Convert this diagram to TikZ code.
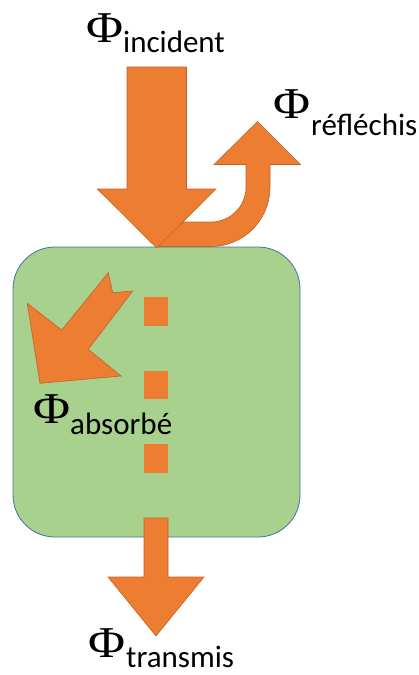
\documentclass[tikz,border=0pt]{standalone}
\usepackage{fontspec}
\newfontfamily\phifont{Liberation Serif}
\newfontfamily\subfont{Carlito}
\definecolor{orng}{HTML}{ED7D31}
\definecolor{orngline}{HTML}{C0632A}
\definecolor{grn}{HTML}{A9D18E}
\definecolor{grnline}{HTML}{41719C}
\newcommand{\bigphi}{\scalebox{1.15}[1]{Φ}}
\tikzset{
  arrowshape/.style={fill=orng, draw=orngline, line width=0.6pt, line join=miter},
  dashbox/.style={fill=orng, draw=none},
  phitxt/.style={anchor=base west, inner sep=0pt, font=\phifont\fontsize{44}{44}\selectfont},
  subtxt/.style={anchor=base west, inner sep=0pt, font=\subfont\fontsize{31}{31}\selectfont},
}
\begin{document}
\begin{tikzpicture}[x=1pt,y=-1pt]
\useasboundingbox (0,0) rectangle (419,675);
% body
\node[draw=grnline, fill=grn, line width=0.8pt, rounded corners=42pt, minimum width=287pt, minimum height=290pt, inner sep=0pt] (body) at (156.5,392) {};
% dashes (transmitted flux inside)
\fill[orng] (144,297) rectangle (168,326);
\fill[orng] (144,371) rectangle (168,399);
\fill[orng] (144,444) rectangle (168,473);
% transmitted arrow
\draw[arrowshape] (144,518) -- (168,518) -- (168,577) -- (204,577) -- (156,636) -- (108,577) -- (144,577) -- cycle;
% reflected arrow
\draw[arrowshape] (157,246.5) -- (211,246.5)
  .. controls (243.6,246.5) and (270,220.1) .. (270,187)
  -- (270,164.5) -- (300.5,164.5) -- (257.5,121.5) -- (214,164.5) -- (246,164.5) -- (246,187)
  .. controls (246,206.3) and (230.3,222) .. (211,222)
  -- (183,222) -- cycle;
% incident arrow
\draw[arrowshape] (127,67) -- (186.5,67) -- (186.5,189) -- (216,189) -- (156.7,248) -- (97.4,189) -- (127,189) -- cycle;
% absorbed arrow
\draw[arrowshape] (108.3,272.7) -- (112.7,292.7) -- (132.7,291) -- (88.3,349.3) -- (121,376) -- (40,383.3) -- (27.3,303.3) -- (61.7,330) -- cycle;
% labels
\node[phitxt] (phiinc) at (86,42) {\bigphi};
\node[subtxt] (subinc) at (123,52.3) {incident};
\node[phitxt] (phiref) at (273,118) {\bigphi};
\node[subtxt] (subref) at (311,135) {réfléchis};
\node[phitxt] (phiabs) at (33,423) {\bigphi};
\node[subtxt] (subabs) at (70,434) {absorbé};
\node[phitxt] (phitra) at (88,657) {\bigphi};
\node[subtxt] (subtra) at (126,667.5) {transmis};
\end{tikzpicture}
\end{document}
